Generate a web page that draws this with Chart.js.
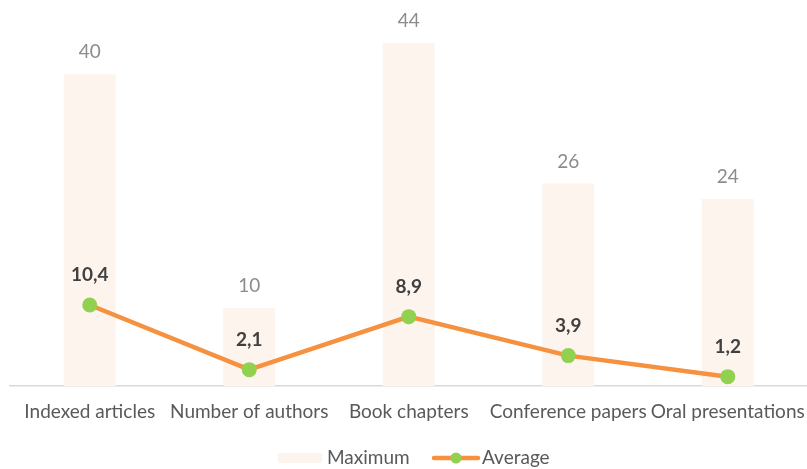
<!DOCTYPE html>
<html>
<head>
<meta charset="utf-8">
<script src="https://cdn.jsdelivr.net/npm/chart.js@4"></script>
<style>
  html, body { margin: 0; padding: 0; background: #fff; overflow: hidden; }
  #wrap { width: 815px; height: 469px; position: relative; }
  canvas { display: block; }
</style>
</head>
<body>
<div id="wrap"><canvas id="chart" width="815" height="469"></canvas></div>
<script>
const categories = ['Indexed articles', 'Number of authors', 'Book chapters', 'Conference papers', 'Oral presentations'];
const maximumValues = [40, 10, 44, 26, 24];
const averageValues = [10.4, 2.1, 8.9, 3.9, 1.2];

const FONT = 'Lato, "Open Sans", sans-serif';
const FONT_SIZE = 19;
const BAR_COLOR = '#FCF4ED';
const LINE_COLOR = '#F5913F';
const POINT_COLOR = '#92D050';

function fmt(v) {
    return Number.isInteger(v) ? String(v) : v.toFixed(1).replace('.', ',');
}

// draws the value labels above bars and points
const valueLabels = {
    id: 'valueLabels',
    afterDatasetsDraw(chart) {
        const ctx = chart.ctx;
        ctx.save();
        ctx.textAlign = 'center';
        ctx.textBaseline = 'middle';
        chart.data.datasets.forEach((ds, i) => {
            const meta = chart.getDatasetMeta(i);
            const isLine = ds.type === 'line';
            ctx.font = (isLine ? 'bold ' : '') + FONT_SIZE + 'px ' + FONT;
            ctx.fillStyle = isLine ? '#404040' : '#8C8C8C';
            meta.data.forEach((el, j) => {
                const off = isLine ? 30 : 22;
                ctx.fillText(fmt(ds.data[j]), el.x, el.y - off);
            });
        });
        ctx.restore();
    }
};

// custom legend at the bottom
const bottomLegend = {
    id: 'bottomLegend',
    afterDraw(chart) {
        const ctx = chart.ctx;
        const y = 458;
        ctx.save();
        ctx.font = FONT_SIZE + 'px ' + FONT;
        ctx.textBaseline = 'middle';
        const barDs = chart.data.datasets[1];
        const lineDs = chart.data.datasets[0];
        // bar entry
        ctx.fillStyle = barDs.backgroundColor;
        ctx.fillRect(278, y - 5, 44, 10);
        ctx.fillStyle = '#595959';
        ctx.fillText(barDs.label, 327, y);
        // line entry
        ctx.strokeStyle = lineDs.borderColor;
        ctx.lineWidth = 4.5;
        ctx.lineCap = 'round';
        ctx.beginPath();
        ctx.moveTo(434, y);
        ctx.lineTo(478, y);
        ctx.stroke();
        ctx.fillStyle = lineDs.pointBackgroundColor;
        ctx.beginPath();
        ctx.arc(456, y, 5.5, 0, Math.PI * 2);
        ctx.fill();
        ctx.fillStyle = '#595959';
        ctx.fillText(lineDs.label, 482, y);
        ctx.restore();
    }
};

new Chart(document.getElementById('chart'), {
    data: {
        labels: categories,
        datasets: [
            {
                type: 'line',
                label: 'Average',
                data: averageValues,
                borderColor: LINE_COLOR,
                borderWidth: 4.5,
                pointBackgroundColor: POINT_COLOR,
                pointBorderWidth: 0,
                pointRadius: 7.5,
                pointHoverRadius: 7.5,
                tension: 0,
                order: 0
            },
            {
                type: 'bar',
                label: 'Maximum',
                data: maximumValues,
                backgroundColor: BAR_COLOR,
                barPercentage: 0.325,
                categoryPercentage: 1,
                order: 1
            }
        ]
    },
    options: {
        responsive: false,
        animation: false,
        layout: { padding: { top: 12, left: 10, right: 0, bottom: 0 } },
        plugins: {
            legend: { display: false },
            tooltip: { enabled: false }
        },
        scales: {
            x: {
                grid: { display: false, drawTicks: false },
                border: { display: true, color: '#D9D9D9', width: 1.5 },
                ticks: {
                    color: '#595959',
                    font: { family: FONT, size: FONT_SIZE },
                    padding: 14,
                    maxRotation: 0,
                    autoSkip: false
                },
                afterFit(scale) {
                    scale.height = 83;
                    scale.paddingLeft = 0;
                    scale.paddingRight = 0;
                }
            },
            y: {
                display: false,
                min: 0,
                max: 48
            }
        }
    },
    plugins: [valueLabels, bottomLegend]
});
</script>
</body>
</html>
